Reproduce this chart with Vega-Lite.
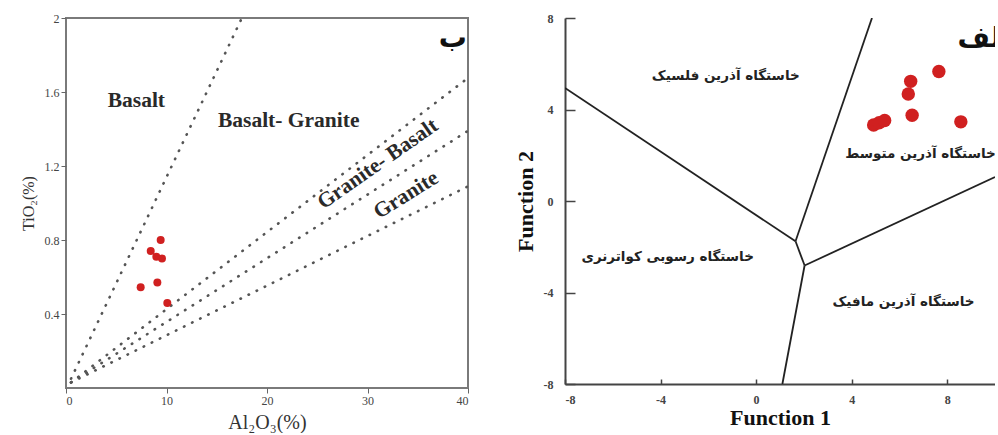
{
  "$schema": "https://vega.github.io/schema/vega-lite/v6.json",
  "background": "white",
  "padding": {"left": 19, "right": 0, "top": 11, "bottom": 0},
  "bounds": "flush",
  "spacing": 97,
  "datasets": {
    "leftPoints": [
      {"al": 9.42, "ti": 0.80}, {"al": 8.43, "ti": 0.74}, {"al": 8.99, "ti": 0.71},
      {"al": 9.55, "ti": 0.70}, {"al": 7.43, "ti": 0.545}, {"al": 9.09, "ti": 0.57},
      {"al": 10.08, "ti": 0.46}
    ],
    "leftLines": [
      {"line": "L1", "o": 1, "al": 0.5, "ti": 0.05}, {"line": "L1", "o": 2, "al": 17.5, "ti": 2.0},
      {"line": "L2", "o": 1, "al": 0.5, "ti": 0.03}, {"line": "L2", "o": 2, "al": 40, "ti": 1.676},
      {"line": "L3", "o": 1, "al": 0.5, "ti": 0.03}, {"line": "L3", "o": 2, "al": 40, "ti": 1.39},
      {"line": "L4", "o": 1, "al": 0.5, "ti": 0.03}, {"line": "L4", "o": 2, "al": 40, "ti": 1.09}
    ],
    "leftLabels": [
      {"t": "Basalt", "al": 7.0, "ti": 1.551, "a": 0},
      {"t": "Basalt- Granite", "al": 22.16, "ti": 1.443, "a": 0},
      {"t": "Granite- Basalt", "al": 31.04, "ti": 1.209, "a": -35},
      {"t": "Granite", "al": 33.86, "ti": 1.042, "a": -32}
    ],
    "rightPoints": [
      {"f1": 7.65, "f2": 5.66}, {"f1": 6.47, "f2": 5.23}, {"f1": 6.37, "f2": 4.68},
      {"f1": 6.53, "f2": 3.75}, {"f1": 4.92, "f2": 3.32}, {"f1": 5.15, "f2": 3.42},
      {"f1": 5.38, "f2": 3.52}, {"f1": 8.57, "f2": 3.46}
    ],
    "rightLines": [
      {"line": "A", "o": 1, "f1": -8, "f2": 4.94}, {"line": "A", "o": 2, "f1": 1.65, "f2": -1.76},
      {"line": "B", "o": 1, "f1": 1.65, "f2": -1.76}, {"line": "B", "o": 2, "f1": 4.85, "f2": 8},
      {"line": "J", "o": 1, "f1": 1.65, "f2": -1.76}, {"line": "J", "o": 2, "f1": 2.03, "f2": -2.82},
      {"line": "C", "o": 1, "f1": 2.03, "f2": -2.82}, {"line": "C", "o": 2, "f1": 10, "f2": 1.05},
      {"line": "D", "o": 1, "f1": 2.03, "f2": -2.82}, {"line": "D", "o": 2, "f1": 1.1, "f2": -8}
    ],
    "rightLabels": [
      {"t": "خاستگاه آذرین فلسیک", "f1": -1.27, "f2": 5.48},
      {"t": "خاستگاه رسوبی کواترنری", "f1": -3.7, "f2": -2.45},
      {"t": "خاستگاه آذرین مافیک", "f1": 6.17, "f2": -4.42}
    ],
    "rightLabelsLeft": [
      {"t": "خاستگاه آذرین متوسط", "f1": 3.73, "f2": 2.06}
    ]
  },
  "hconcat": [
    {
      "width": 402,
      "height": 370,
      "view": {"stroke": "#7a7a7a", "strokeWidth": 2},
      "layer": [
        {
          "data": {"name": "leftLines"},
          "mark": {"type": "line", "color": "#555", "strokeWidth": 2.6, "strokeDash": [0.5, 8.5], "strokeCap": "round"},
          "encoding": {
            "x": {"field": "al", "type": "quantitative", "scale": {"domain": [0, 40], "nice": false},
              "axis": {"values": [0, 10, 20, 30, 40], "grid": false, "domain": false, "tickSize": 5, "tickColor": "#666",
                "labelFont": "Liberation Serif", "labelFontSize": 12, "labelColor": "#444", "labelPadding": 2,
                "title": "Al₂O₃(%)", "titleFont": "Liberation Serif", "titleFontSize": 20, "titleFontWeight": "normal",
                "titleColor": "#333", "titlePadding": 6}},
            "y": {"field": "ti", "type": "quantitative", "scale": {"domain": [0, 2], "nice": false},
              "axis": {"values": [0.4, 0.8, 1.2, 1.6, 2], "format": "~g", "grid": false, "domain": false, "tickSize": 5, "tickColor": "#666",
                "labelFont": "Liberation Serif", "labelFontSize": 12, "labelColor": "#444", "labelPadding": 2,
                "title": "TiO₂(%)", "titleFont": "Liberation Serif", "titleFontSize": 16, "titleFontWeight": "normal",
                "titleColor": "#333", "titlePadding": 8}},
            "detail": {"field": "line"},
            "order": {"field": "o"}
          }
        },
        {
          "data": {"name": "leftLabels"},
          "mark": {"type": "text", "font": "Liberation Serif", "fontSize": 21.5, "fontWeight": "bold", "color": "#2a2a2a", "align": "center", "baseline": "middle"},
          "encoding": {
            "x": {"field": "al", "type": "quantitative"},
            "y": {"field": "ti", "type": "quantitative"},
            "text": {"field": "t"},
            "angle": {"field": "a", "type": "quantitative", "scale": null}
          }
        },
        {
          "data": {"values": [{"t": "ب", "al": 38.5, "ti": 1.885}]},
          "mark": {"type": "text", "font": "DejaVu Sans", "fontSize": 28, "fontWeight": "bold", "color": "#111", "align": "center", "baseline": "middle"},
          "encoding": {
            "x": {"field": "al", "type": "quantitative"},
            "y": {"field": "ti", "type": "quantitative"},
            "text": {"field": "t"}
          }
        },
        {
          "data": {"name": "leftPoints"},
          "mark": {"type": "circle", "size": 64, "color": "#d02020", "opacity": 1},
          "encoding": {
            "x": {"field": "al", "type": "quantitative"},
            "y": {"field": "ti", "type": "quantitative"}
          }
        }
      ]
    },
    {
      "width": 430,
      "height": 366,
      "view": {"stroke": null},
      "layer": [
        {
          "data": {"name": "rightLines"},
          "mark": {"type": "line", "color": "#222", "strokeWidth": 1.8, "clip": true},
          "encoding": {
            "x": {"field": "f1", "type": "quantitative", "scale": {"domain": [-8, 10], "nice": false},
              "axis": {"values": [-8, -4, 0, 4, 8], "labelExpr": "'' + datum.value", "grid": false, "domain": true, "domainColor": "#444", "domainWidth": 2,
                "tickSize": -5, "tickColor": "#444", "tickWidth": 1.5,
                "labelFont": "Liberation Serif", "labelFontSize": 12, "labelFontWeight": "bold", "labelColor": "#444", "labelPadding": 15,
                "title": "Function 1", "titleFont": "Liberation Serif", "titleFontSize": 22, "titleFontWeight": "bold",
                "titleColor": "#111", "titlePadding": 2}},
            "y": {"field": "f2", "type": "quantitative", "scale": {"domain": [-8, 8], "nice": false},
              "axis": {"values": [-8, -4, 0, 4, 8], "labelExpr": "'' + datum.value", "grid": false, "domain": true, "domainColor": "#444", "domainWidth": 2,
                "tickSize": -10, "tickColor": "#444", "tickWidth": 1.5,
                "labelFont": "Liberation Serif", "labelFontSize": 12, "labelFontWeight": "bold", "labelColor": "#444", "labelPadding": 22,
                "title": "Function 2", "titleFont": "Liberation Serif", "titleFontSize": 22, "titleFontWeight": "bold",
                "titleColor": "#111", "titlePadding": 6}},
            "detail": {"field": "line"},
            "order": {"field": "o"}
          }
        },
        {
          "mark": {"type": "rule", "color": "#444", "strokeWidth": 2},
          "encoding": {"y": {"datum": 8}}
        },
        {
          "data": {"name": "rightLabels"},
          "mark": {"type": "text", "font": "DejaVu Sans", "fontSize": 13.5, "fontWeight": "bold", "color": "#222", "align": "center", "baseline": "middle"},
          "encoding": {
            "x": {"field": "f1", "type": "quantitative"},
            "y": {"field": "f2", "type": "quantitative"},
            "text": {"field": "t"}
          }
        },
        {
          "data": {"name": "rightLabelsLeft"},
          "mark": {"type": "text", "font": "DejaVu Sans", "fontSize": 13.5, "fontWeight": "bold", "color": "#222", "align": "left", "baseline": "middle", "clip": true},
          "encoding": {
            "x": {"field": "f1", "type": "quantitative"},
            "y": {"field": "f2", "type": "quantitative"},
            "text": {"field": "t"}
          }
        },
        {
          "data": {"values": [{"t": "الف", "f1": 8.43, "f2": 7.1}]},
          "mark": {"type": "text", "font": "DejaVu Sans", "fontSize": 28, "fontWeight": "bold", "color": "#111", "align": "left", "baseline": "middle", "clip": true},
          "encoding": {
            "x": {"field": "f1", "type": "quantitative"},
            "y": {"field": "f2", "type": "quantitative"},
            "text": {"field": "t"}
          }
        },
        {
          "data": {"name": "rightPoints"},
          "mark": {"type": "circle", "size": 180, "color": "#d02020", "opacity": 1},
          "encoding": {
            "x": {"field": "f1", "type": "quantitative"},
            "y": {"field": "f2", "type": "quantitative"}
          }
        }
      ]
    }
  ]
}
